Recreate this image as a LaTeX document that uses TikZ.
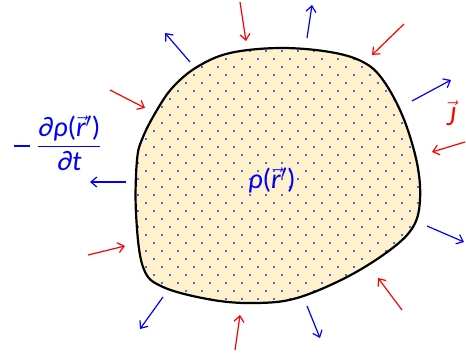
\documentclass[tikz,border=0pt]{standalone}
\usepackage{amsmath}
\usepackage{fontspec}
\setmainfont{Carlito}
\definecolor{BlobFill}{RGB}{255,241,204}
\definecolor{DotBlue}{RGB}{70,110,220}
\usetikzlibrary{arrows.meta}
\newcommand{\rvec}{\ensuremath{\vec{\text{\itshape r}}}}

\begin{document}
\begin{tikzpicture}[x=1pt, y=-1pt,
  inflow/.style={draw=red, line width=1.2pt, -{Straight Barb[length=6pt,width=10pt]}},
  outflow/.style={draw=blue, line width=1.2pt, -{Straight Barb[length=6pt,width=10pt]}},
  lbl/.style={font=\fontsize{28}{32}\selectfont, inner sep=0pt}
]
\useasboundingbox (0,0) rectangle (466,356);

% the volume
\path[fill=BlobFill] plot[smooth cycle, tension=0.6] coordinates {
  (143,137) (137,160) (136,213) (143,267) (163,287) (213,300) (257,303)
  (297,298) (347,277) (390,250) (413,227) (420,200) (417,163) (403,117)
  (383,80) (363,62) (330,52) (280,48) (230,53) (197,67) (173,87) (157,110)};
\begin{scope}
  \clip plot[smooth cycle, tension=0.6] coordinates {
    (143,137) (137,160) (136,213) (143,267) (163,287) (213,300) (257,303)
    (297,298) (347,277) (390,250) (413,227) (420,200) (417,163) (403,117)
    (383,80) (363,62) (330,52) (280,48) (230,53) (197,67) (173,87) (157,110)};
  \foreach \j in {0,...,33}
    \foreach \i in {0,...,19}
      \fill[DotBlue] ({129+8*mod(\j,2)+16*\i},{42+8*\j}) rectangle ++(2,2);
\end{scope}
\draw[line width=2.2pt] plot[smooth cycle, tension=0.6] coordinates {
  (143,137) (137,160) (136,213) (143,267) (163,287) (213,300) (257,303)
  (297,298) (347,277) (390,250) (413,227) (420,200) (417,163) (403,117)
  (383,80) (363,62) (330,52) (280,48) (230,53) (197,67) (173,87) (157,110)};

% flux arrows
\foreach \name/\sx/\sy/\ex/\ey in {
  a/240/2/246/41, b/404/24/372/55, c/110/90/145/108, d/465/142/432/152,
  e/88/255/125/246, f/402/310/378/278, g/235/350/240/315} {
  \coordinate (in\name s) at (\sx,\sy);
  \coordinate (in\name e) at (\ex,\ey);
  \draw[inflow] (in\name s) -- (in\name e);
}
\foreach \name/\sx/\sy/\ex/\ey in {
  a/190/62/165/33, b/307/38/312/5, c/412/101/451/80, d/126/182/90/182,
  e/427/226/464/242, f/163/297/140/329, g/307/306/320/338} {
  \coordinate (out\name s) at (\sx,\sy);
  \coordinate (out\name e) at (\ex,\ey);
  \draw[outflow] (out\name s) -- (out\name e);
}

% labels
\node[lbl, text=blue] (rho) at (272,180) {\textit{ρ}(\rvec$'$)};
\node[lbl, text=red] (flux) at (451,113) {$\vec{\text{\itshape J}}$};
\node[lbl, text=blue] (drho) at (58,143)
  {$\rule[6.5pt]{16pt}{1.6pt}\;\dfrac{\text{\textit{∂ρ}(}\rvec\text{$'$)}}{\text{\textit{∂t}}}$};
\end{tikzpicture}
\end{document}
